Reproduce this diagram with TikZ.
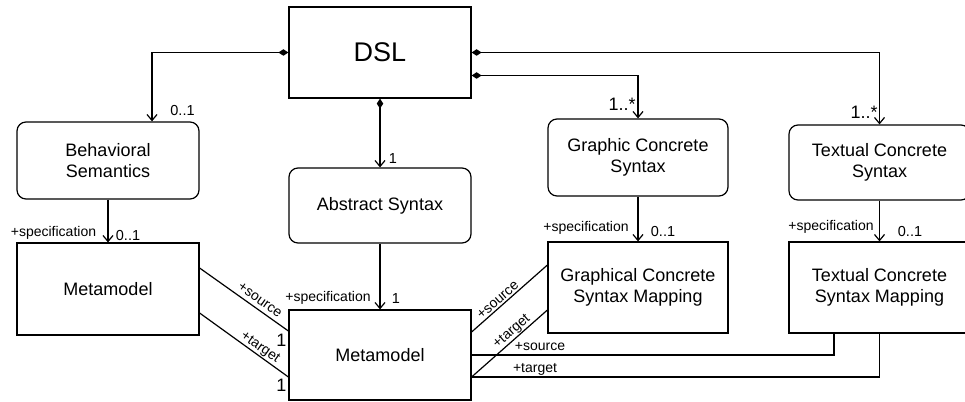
\documentclass[tikz,border=0pt]{standalone}
\usepackage{fontspec}
\setmainfont{Liberation Sans}
\usetikzlibrary{arrows.meta}

\begin{document}
\begin{tikzpicture}[x=1pt, y=-1pt,
  box/.style={draw, line width=1.2pt, inner sep=0pt, align=center,
              font=\fontsize{18}{21.6}\selectfont},
  rbox/.style={box, rounded corners=9pt},
  link/.style={line width=1.2pt},
  comp/.style={link, {Diamond[length=10pt,width=6.5pt]}-{Straight Barb[length=6pt,width=10pt]}},
  assoc/.style={link, -{Straight Barb[length=6pt,width=10pt]}},
  lbl/.style={font=\fontsize{14}{16}\selectfont, inner sep=0pt},
  mult/.style={font=\fontsize{14.5}{16}\selectfont, inner sep=0pt},
  bigmult/.style={font=\fontsize{18}{20}\selectfont, inner sep=0pt},
]
\useasboundingbox (0,0) rectangle (965,401);
\clip (0,0) rectangle (965,401);

% classes
\node[box, minimum width=182pt, minimum height=91pt,
      font=\fontsize{27}{30}\selectfont] (dsl) at (380,52.5) {DSL};
\node[rbox, minimum width=182pt, minimum height=77pt] (beh) at (108,160.5) {Behavioral\\Semantics};
\node[rbox, minimum width=182pt, minimum height=75pt] (abs) at (380,205.5) {Abstract Syntax};
\node[rbox, minimum width=180pt, minimum height=77pt] (gcs) at (638,157.5) {Graphic Concrete\\Syntax};
\node[rbox, minimum width=181pt, minimum height=75pt] (tcs) at (879.5,162.5) {Textual Concrete\\Syntax};
\node[box, minimum width=182pt, minimum height=92pt] (mmL) at (108,289) {Metamodel};
\node[box, minimum width=182pt, minimum height=90pt] (mmC) at (380,355) {Metamodel};
\node[box, minimum width=180pt, minimum height=91pt] (gmap) at (638,287.5) {Graphical Concrete\\Syntax Mapping};
\node[box, minimum width=181pt, minimum height=91pt] (tmap) at (879.5,287.5) {Textual Concrete\\Syntax Mapping};

% compositions from DSL
\draw[comp] (dsl.west) -| ([xshift=44pt]beh.north);
\draw[comp] (dsl.south) -- (abs.north);
\draw[comp] ([yshift=-23pt]dsl.east) -| (gcs.north);
\draw[comp] (dsl.east) -| (tcs.north);

% specification associations
\draw[assoc] (beh.south) -- (mmL.north);
\draw[assoc] (abs.south) -- (mmC.north);
\draw[assoc] (gcs.south) -- (gmap.north);
\draw[assoc] (tcs.south) -- (tmap.north);

% source / target links
\draw[link] ([yshift=21pt]mmL.east) -- ([yshift=24pt]mmC.west);
\draw[link] ([yshift=-24pt]mmL.east) -- ([yshift=-22pt]mmC.west);
\draw[link] ([yshift=23pt]mmC.east) -- ([yshift=22.5pt]gmap.west);
\draw[link] ([yshift=-22pt]mmC.east) -- ([yshift=-22.5pt]gmap.west);
\draw[link] (mmC.east) -| ([xshift=-45.5pt]tmap.south);
\draw[link] ([yshift=-22pt]mmC.east) -| (tmap.south);

% multiplicities and role names
\node[mult] (m1) at (182.5,111) {0..1};
\node[mult] (m2) at (393,159) {1};
\node[bigmult] (m3) at (622,104) {1..*};
\node[bigmult] (m4) at (864,112) {1..*};

\node[lbl] (s1) at (53.5,233) {+specification};
\node[mult] (m5) at (128,236) {0..1};
\node[lbl] (s2) at (328,298) {+specification};
\node[mult] (m6) at (396,299) {1};
\node[lbl] (s3) at (586,228) {+specification};
\node[mult] (m7) at (663,232) {0..1};
\node[lbl] (s4) at (831,227) {+specification};
\node[mult] (m8) at (910,232) {0..1};

\node[lbl, rotate=-35] (r1) at (260,300) {+source};
\node[lbl, rotate=-35] (r2) at (260,348) {+target};
\node[bigmult] (m9) at (281.5,340) {1};
\node[bigmult] (m10) at (281.5,385) {1};

\node[lbl, rotate=41] (r3) at (498,300) {+source};
\node[lbl, rotate=41] (r4) at (512,332) {+target};
\node[lbl] (r5) at (540,347) {+source};
\node[lbl] (r6) at (535,369) {+target};
\end{tikzpicture}
\end{document}
